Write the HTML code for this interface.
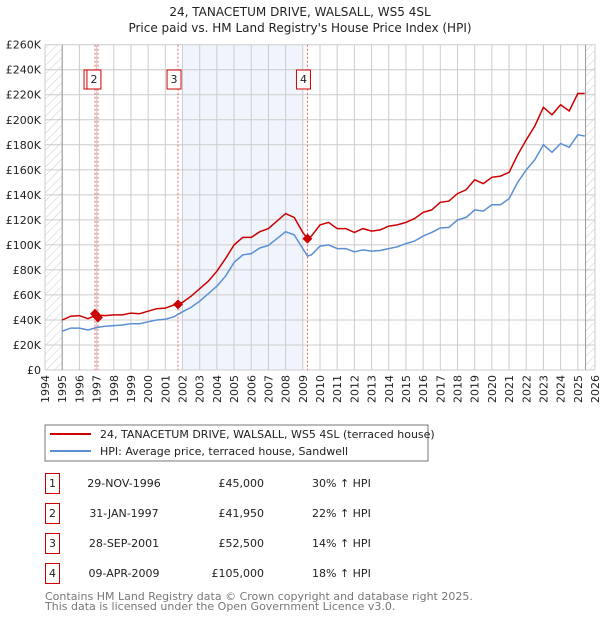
<!DOCTYPE html>
<html><head><meta charset="utf-8"><style>
body{margin:0;background:#fff;font-family:"DejaVu Sans","Liberation Sans",sans-serif;}
svg text{font-family:"DejaVu Sans","Liberation Sans",sans-serif;}
</style></head><body>
<svg id="c" width="600" height="620" xmlns="http://www.w3.org/2000/svg">
<defs><pattern id="hatch" width="6" height="6" patternUnits="userSpaceOnUse" patternTransform="rotate(45)"><line x1="0" y1="0" x2="0" y2="6" stroke="#ccc" stroke-width="1"/></pattern></defs>
<text x="300" y="16" text-anchor="middle" font-size="12" fill="#222">24, TANACETUM DRIVE, WALSALL, WS5 4SL</text>
<text x="300" y="32" text-anchor="middle" font-size="12" fill="#222">Price paid vs. HM Land Registry's House Price Index (HPI)</text>
<g id="plot"></g>
<g>
<rect x="45" y="425" width="383" height="36" fill="#fff" stroke="#777"/>
<line x1="50" y1="434" x2="91" y2="434" stroke="#cc0000" stroke-width="2"/>
<text x="100" y="438" font-size="11" fill="#222">24, TANACETUM DRIVE, WALSALL, WS5 4SL (terraced house)</text>
<line x1="50" y1="451" x2="91" y2="451" stroke="#5b8fd4" stroke-width="2"/>
<text x="100" y="455" font-size="11" fill="#222">HPI: Average price, terraced house, Sandwell</text>
</g>
<g id="table"></g>
<text x="45" y="600" font-size="11" fill="#777">Contains HM Land Registry data © Crown copyright and database right 2025.</text>
<text x="45" y="610" font-size="11" fill="#777">This data is licensed under the Open Government Licence v3.0.</text>
</svg>
<script>
const times=[1995.0,1995.5,1996.0,1996.5,1997.0,1997.5,1998.0,1998.5,1999.0,1999.5,2000.0,2000.5,2001.0,2001.5,2002.0,2002.5,2003.0,2003.5,2004.0,2004.5,2005.0,2005.5,2006.0,2006.5,2007.0,2007.5,2008.0,2008.5,2009.0,2009.27,2009.5,2010.0,2010.5,2011.0,2011.5,2012.0,2012.5,2013.0,2013.5,2014.0,2014.5,2015.0,2015.5,2016.0,2016.5,2017.0,2017.5,2018.0,2018.5,2019.0,2019.5,2020.0,2020.5,2021.0,2021.5,2022.0,2022.5,2023.0,2023.5,2024.0,2024.5,2025.0,2025.4];
const hpiValues=[31,33.5,33.5,32,34,35,35.5,36,37,37,38.5,40,40.5,42.5,46.5,50,55,61,67,75,86,92,93,97.5,99.5,105,110.5,108,97,91,92,99,100,97,97,94.5,96,95,95.5,97,98.5,101,103,107,110,113.5,114,120,122,128,127,132,132,137,150,160,168,180,174,181,178,188,187];
const propValues=[40,43,43.5,41,44,43.5,44,44,45.5,45,47,49,49.5,52,54,59,65,71,79,89,100,106,106,110.5,113,119,125,122,110,105,107,116,118,113,113,110,113,111,112,115,116,118,121,126,128,134,135,141,144,152,149,154,155,158,172,184,195,210,204,212,207,221,221];
const saleLabels=["1","2","3","4"];
const saleTimes=[1996.91,1997.08,2001.74,2009.27];
const salePrices=[45000,41950,52500,105000];
const saleDates=["29-NOV-1996","31-JAN-1997","28-SEP-2001","09-APR-2009"];
const salePriceText=["£45,000","£41,950","£52,500","£105,000"];
const saleHpiText=["30% ↑ HPI","22% ↑ HPI","14% ↑ HPI","18% ↑ HPI"];
const yTicks=[0,20,40,60,80,100,120,140,160,180,200,220,240,260];
const years=[1994,1995,1996,1997,1998,1999,2000,2001,2002,2003,2004,2005,2006,2007,2008,2009,2010,2011,2012,2013,2014,2015,2016,2017,2018,2019,2020,2021,2022,2023,2024,2025,2026];

const L=45,R=595,T=44.7,B=370;
const x=t=>L+(t-1994)/(2026-1994)*(R-L);
const y=v=>B-v/260*(B-T);
const NS="http://www.w3.org/2000/svg";
const g=document.getElementById('plot');
function mk(tag,at,parent){const e=document.createElementNS(NS,tag);for(const k in at)e.setAttribute(k,at[k]);(parent||g).appendChild(e);return e;}

let e;
e=mk('rect',{x:x(2002),y:T,width:x(2009)-x(2002),height:B-T,fill:'#f0f4fc'});


e=mk('rect',{x:L,y:T,width:x(1995)-L,height:B-T,fill:'url(#hatch)'});


e=mk('rect',{x:x(2025.45),y:T,width:R-x(2025.45),height:B-T,fill:'url(#hatch)'});


years.forEach(yr=>{
  e=mk('line',{x1:x(yr),x2:x(yr),y1:T,y2:B,stroke:'#ccc','stroke-width':1});
  
  
  e=mk('text',{x:0,y:0,transform:`translate(${x(yr)+4},${B+5}) rotate(-90)`,'text-anchor':'end','font-size':11,fill:'#222'});
  e.textContent=yr;
  
  
});
yTicks.forEach(v=>{
  e=mk('line',{x1:L,x2:R,y1:y(v),y2:y(v),stroke:'#ccc','stroke-width':1});
  
  
  e=mk('text',{x:L-4,y:y(v)+4,'text-anchor':'end','font-size':11,fill:'#222'});
  e.textContent=v===0?'£0':'£'+v+'K';
  
  
});
e=mk('line',{x1:x(1995),x2:x(1995),y1:T,y2:B,stroke:'#999'});


e=mk('line',{x1:x(2025.45),x2:x(2025.45),y1:T,y2:B,stroke:'#999'});


saleTimes.forEach((t,i)=>{
  e=mk('line',{x1:x(t),x2:x(t),y1:T,y2:B,stroke:'#e66','stroke-width':1,'stroke-dasharray':'2,2'});
  
  
});
const pts=(vals)=>times.map((t,i)=>x(t).toFixed(1)+','+y(vals[i]).toFixed(1)).join(' ');
e=mk('polyline',{points:pts(hpiValues),fill:'none',stroke:'#5b8fd4','stroke-width':1.5});


e=mk('polyline',{points:pts(propValues),fill:'none',stroke:'#cc0000','stroke-width':1.5});


saleTimes.forEach((t,i)=>{
  const cx=x(t),cy=y(salePrices[i]/1000);
  e=mk('polygon',{points:`${cx},${cy-5} ${cx+5},${cy} ${cx},${cy+5} ${cx-5},${cy}`,fill:'#cc0000'});
  
  
  e=mk('rect',{x:cx-11,y:70,width:14,height:19,fill:'#fff',stroke:'#cc0000'});
  
  
  e=mk('text',{x:cx-4,y:83,'text-anchor':'middle','font-size':11,fill:'#222'});
  e.textContent=saleLabels[i];
  
  
});
const tb=document.getElementById('table');
const rowY=[483,513,543,573];
saleLabels.forEach((lab,i)=>{
  const cy=rowY[i];
  e=mk('rect',{x:45.5,y:cy-9.5,width:14,height:20,fill:'#fff',stroke:'#cc0000'},tb);
  
  
  e=mk('text',{x:52.5,y:cy+4,'text-anchor':'middle','font-size':11,fill:'#222'},tb);
  e.textContent=lab;
  
  
  e=mk('text',{x:124,y:cy+4,'text-anchor':'middle','font-size':11,fill:'#222'},tb);
  e.textContent=saleDates[i];
  
  
  e=mk('text',{x:264,y:cy+4,'text-anchor':'end','font-size':11,fill:'#222'},tb);
  e.textContent=salePriceText[i];
  
  
  e=mk('text',{x:312,y:cy+4,'font-size':11,fill:'#222'},tb);
  e.textContent=saleHpiText[i];
  
  
});
</script>
</body></html>
